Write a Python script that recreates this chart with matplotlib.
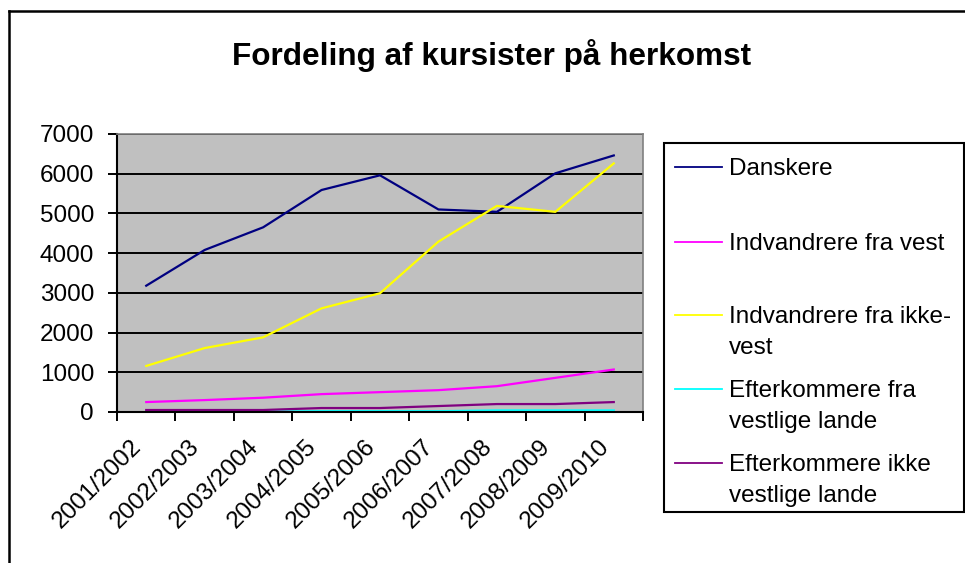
import matplotlib
matplotlib.use('Agg')
from matplotlib import pyplot as plt
from matplotlib.lines import Line2D
from matplotlib.patches import Rectangle
import matplotlib.transforms as mtrans

plt.rcParams['font.family'] = ['Liberation Sans', 'DejaVu Sans']

years = ['2001/2002', '2002/2003', '2003/2004', '2004/2005', '2005/2006',
         '2006/2007', '2007/2008', '2008/2009', '2009/2010']
danskere = [3180, 4080, 4650, 5590, 5960, 5100, 5040, 6010, 6460]
fra_vest = [250, 300, 360, 450, 500, 550, 650, 860, 1070]
ikke_vest = [1160, 1610, 1880, 2610, 2990, 4290, 5190, 5040, 6260]
eft_vest = [10, 10, 10, 20, 20, 20, 40, 40, 40]
eft_ikke = [50, 50, 50, 100, 100, 150, 200, 200, 250]

labels = ['Danskere', 'Indvandrere fra vest', 'Indvandrere fra ikke-\nvest',
          'Efterkommere fra\nvestlige lande', 'Efterkommere ikke\nvestlige lande']
colors = ['#000080', '#FF00FF', '#FFFF00', '#00FFFF', '#800080']
series = [danskere, fra_vest, ikke_vest, eft_vest, eft_ikke]

W, H = 965, 563
fig = plt.figure(figsize=(W / 100, H / 100), dpi=100)

def fx(px):
    return px / W

def fy(py):
    return 1 - py / H

# outer chart border (only top and left are inside the picture)
fig.add_artist(Line2D([fx(9), 1.0], [fy(11), fy(11)], color='black', lw=1.8))
fig.add_artist(Line2D([fx(9), fx(9)], [fy(11), 0.0], color='black', lw=1.8))

fig.text(fx(492), fy(56), 'Fordeling af kursister på herkomst',
         ha='center', va='center', fontsize=22.7, fontweight='bold')

ax = fig.add_axes([fx(117), fy(412), fx(643) - fx(117), fy(134) - fy(412)])
ax.set_facecolor('#C0C0C0')
x = list(range(len(years)))
for ys, c in zip(series, colors):
    ax.plot(x, ys, color=c, lw=1.6)

ax.set_xlim(-0.5, len(years) - 0.5)
ax.set_ylim(0, 7000)
ax.set_yticks(range(0, 7001, 1000))
ax.yaxis.grid(True, color='black', lw=1.4)
ax.set_axisbelow(True)
ax.tick_params(axis='y', direction='out', length=6.5, width=1.4, pad=10, labelsize=17.5)

ax.set_xticks(x)
ax.set_xticklabels(years, rotation=45, ha='right', va='top', rotation_mode='anchor')
ax.set_xticks([i - 0.5 for i in range(len(years) + 1)], minor=True)
ax.tick_params(axis='x', which='major', length=0, pad=17, labelsize=17.5)
ax.tick_params(axis='x', which='minor', direction='out', length=6.5, width=1.4)
shift = mtrans.ScaledTranslation(-16 / 100, 0, fig.dpi_scale_trans)
for lab in ax.get_xticklabels():
    lab.set_transform(lab.get_transform() + shift)

for s in ['left', 'bottom']:
    ax.spines[s].set_color('black')
    ax.spines[s].set_linewidth(1.5)
for s in ['top', 'right']:
    ax.spines[s].set_color('#808080')
    ax.spines[s].set_linewidth(1.2)

# legend box
fig.add_artist(Rectangle((fx(664), fy(512)), fx(964) - fx(664), fy(143) - fy(512),
                         fill=False, edgecolor='black', lw=1.5))
entry_y = [167, 242, 315, 389, 463]
for lab, c, y0 in zip(labels, colors, entry_y):
    fig.add_artist(Line2D([fx(675), fx(722)], [fy(y0), fy(y0)], color=c, lw=1.3))
    for j, line in enumerate(lab.split('\n')):
        fig.text(fx(729), fy(y0 + 8 + j * 31), line, ha='left', va='baseline', fontsize=17.5)

fig.savefig('out.png', dpi=100)
